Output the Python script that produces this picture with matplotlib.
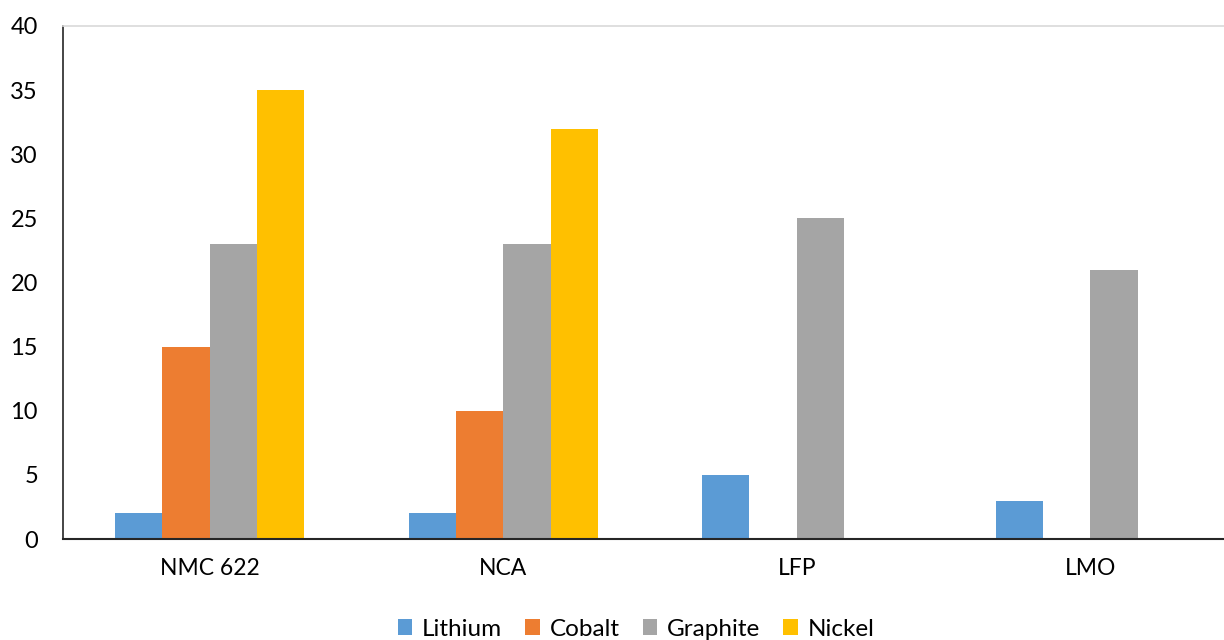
import matplotlib.pyplot as plt
import numpy as np

categories = ['NMC 622', 'NCA', 'LFP', 'LMO']
lithium = [2, 2, 5, 3]
cobalt = [15, 10, 0, 0]
graphite = [23, 23, 25, 21]
nickel = [35, 32, 0, 0]

series = {'Lithium': lithium, 'Cobalt': cobalt, 'Graphite': graphite, 'Nickel': nickel}
colors = ['#5B9BD5', '#ED7D31', '#A5A5A5', '#FFC000']

plt.rcParams['font.family'] = ['Lato', 'DejaVu Sans']

fig = plt.figure(figsize=(12.24, 6.4), dpi=100)
ax = fig.add_axes([63 / 1224, 1 - 539 / 640, 1174 / 1224, 513 / 640])

x = np.arange(len(categories))
width = 0.161
for i, (name, vals) in enumerate(series.items()):
    ax.bar(x + (i - 1.5) * width, vals, width, color=colors[i], label=name)

ax.set_xlim(-0.5, len(categories) - 0.5)
ax.set_ylim(0, 40)
ax.set_yticks(range(0, 41, 5))
ax.set_xticks(x)
ax.set_xticklabels(categories)
ax.tick_params(axis='both', length=0)
ax.tick_params(axis='x', pad=14, labelsize=16.5)
ax.tick_params(axis='y', pad=18, labelsize=17)

ax.spines['right'].set_visible(False)
ax.spines['top'].set_color('#D9D9D9')
ax.spines['top'].set_linewidth(1.2)
ax.spines['left'].set_color('#262626')
ax.spines['bottom'].set_color('#262626')
ax.spines['left'].set_linewidth(1.2)
ax.spines['bottom'].set_linewidth(1.5)

fig.legend(loc='center', bbox_to_anchor=(636 / 1224, 1 - 629 / 640), ncol=4,
           frameon=False, fontsize=17.5, handlelength=0.6, handleheight=0.6,
           handletextpad=0.4, columnspacing=0.95)

fig.savefig('out.png', dpi=100)
